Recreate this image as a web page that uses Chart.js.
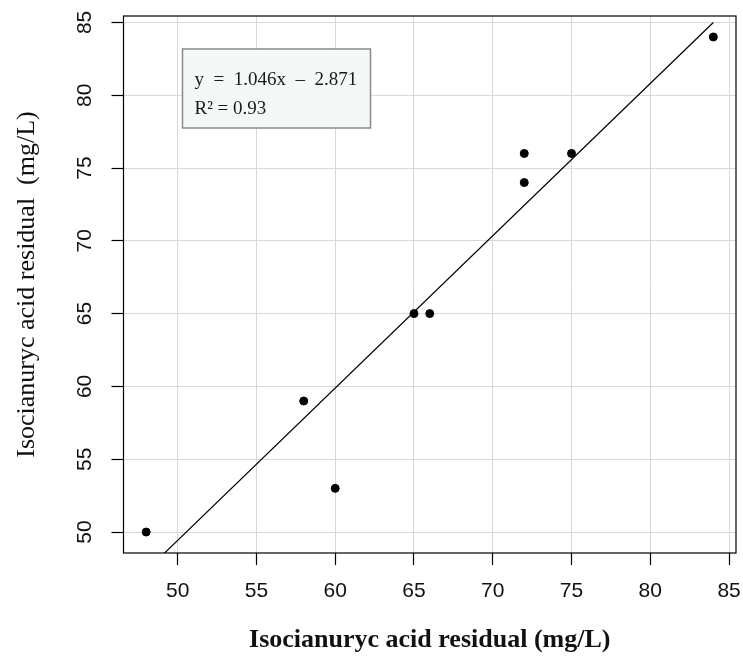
<!DOCTYPE html>
<html>
<head>
<meta charset="utf-8">
<script src="https://cdn.jsdelivr.net/npm/chart.js@4.4.1/dist/chart.umd.min.js"></script>
<style>
  html, body { margin: 0; padding: 0; background: #fff; }
  canvas { display: block; }
</style>
</head>
<body>
<canvas id="chart" width="743" height="657"></canvas>
<script>
// --- data ---
const measuredX = [48, 58, 60, 65, 66, 72, 72, 75, 84];
const measuredY = [50, 59, 53, 65, 65, 76, 74, 76, 84];
const xTicks = [50, 55, 60, 65, 70, 75, 80, 85];
const yTicks = [50, 55, 60, 65, 70, 75, 80, 85];
const fitSlope = 1.046;
const fitIntercept = -2.871;
const fitRange = [48, 84];
const eqLines = ["y  =  1.046x  \u2013  2.871", "R\u00b2 = 0.93"];

const axisTitle = "Isocianuryc acid residual (mg/L)";
const yAxisTitle = "Isocianuryc acid residual  (mg/L)";

const points = measuredX.map((x, i) => ({ x: x, y: measuredY[i] }));
const fitLine = fitRange.map(x => ({ x: x, y: fitSlope * x + fitIntercept }));

const serif = "'Liberation Serif', 'DejaVu Serif', serif";
const sans = "'Liberation Sans', Arial, sans-serif";

// box around plot + equation legend
const frameAndLegend = {
  id: "frameAndLegend",
  afterDraw(chart) {
    const { ctx, chartArea: a } = chart;
    ctx.save();
    ctx.strokeStyle = "#000";
    ctx.lineWidth = 1.2;
    ctx.strokeRect(a.left, a.top, a.right - a.left, a.bottom - a.top);

    const bx = a.left + 59, by = a.top + 33, bw = 188, bh = 79;
    ctx.fillStyle = "#f4f8f6";
    ctx.fillRect(bx, by, bw, bh);
    ctx.strokeStyle = "#8a8a8a";
    ctx.lineWidth = 1.5;
    ctx.strokeRect(bx, by, bw, bh);

    ctx.fillStyle = "#1a1a1a";
    ctx.font = "19px " + serif;
    ctx.textBaseline = "alphabetic";
    ctx.textAlign = "left";
    ctx.fillText(eqLines[0], bx + 12, by + 36);
    ctx.fillText(eqLines[1], bx + 12, by + 65);
    ctx.restore();
  }
};

new Chart(document.getElementById("chart"), {
  type: "scatter",
  data: {
    datasets: [
      {
        data: points,
        backgroundColor: "#000",
        borderColor: "#000",
        pointRadius: 4,
        pointHoverRadius: 4
      },
      {
        type: "line",
        data: fitLine,
        borderColor: "#000",
        borderWidth: 1.2,
        pointRadius: 0,
        fill: false
      }
    ]
  },
  options: {
    responsive: false,
    animation: false,
    layout: { padding: { top: 16, right: 7, left: 0, bottom: 0 } },
    plugins: { legend: { display: false }, tooltip: { enabled: false } },
    scales: {
      x: {
        type: "linear",
        min: 46.56,
        max: 85.44,
        afterBuildTicks: s => { s.ticks = xTicks.map(v => ({ value: v })); },
        afterFit: s => { s.height = 104; s.paddingLeft = 0; s.paddingRight = 0; },
        grid: { color: "#d8d8d8", lineWidth: 1, tickColor: "#000", tickLength: 12, tickWidth: 1.2 },
        border: { display: false },
        ticks: { color: "#111", font: { family: sans, size: 21 }, padding: 14, maxRotation: 0 },
        title: {
          display: true,
          text: axisTitle,
          color: "#111",
          font: { family: serif, size: 26, weight: "bold" },
          padding: { top: 0, bottom: 1 }
        }
      },
      y: {
        type: "linear",
        min: 48.56,
        max: 85.44,
        afterBuildTicks: s => { s.ticks = yTicks.map(v => ({ value: v })); },
        afterFit: s => { s.width = 123.5; s.paddingTop = 0; s.paddingBottom = 0; },
        grid: { color: "#d8d8d8", lineWidth: 1, tickColor: "#000", tickLength: 12, tickWidth: 1.2 },
        border: { display: false },
        ticks: {
          color: "#111",
          font: { family: sans, size: 21 },
          padding: 15,
          minRotation: 90,
          maxRotation: 90,
          crossAlign: "center"
        },
        title: {
          display: true,
          text: yAxisTitle,
          color: "#111",
          font: { family: serif, size: 26 },
          padding: { top: 12, bottom: 0 }
        }
      }
    }
  },
  plugins: [frameAndLegend]
});
</script>
</body>
</html>
